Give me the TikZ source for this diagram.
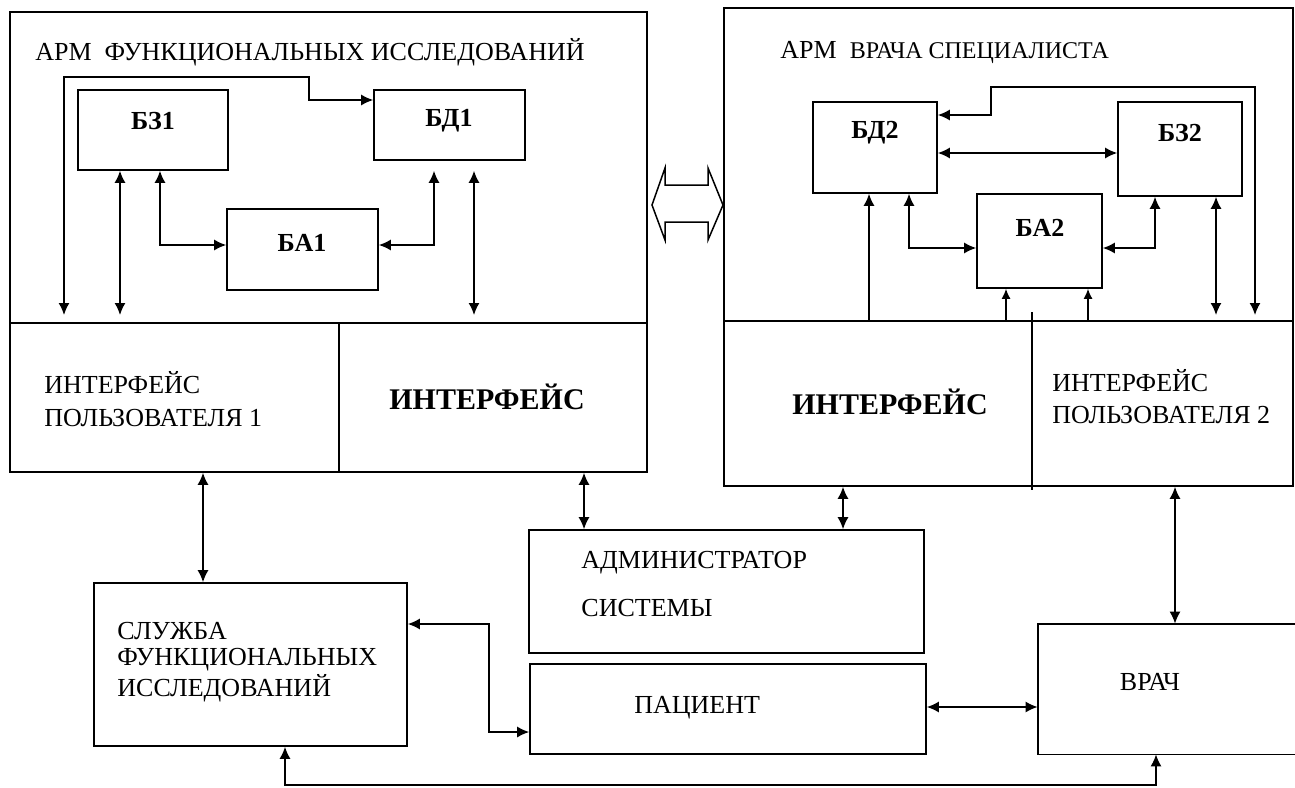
\documentclass[tikz,border=0pt]{standalone}
\usepackage{fontspec}
\setmainfont{Liberation Serif}
\usetikzlibrary{arrows.meta,fit}
\begin{document}
\begin{tikzpicture}[x=0.5pt,y=-0.5pt,
  blk/.style={draw, line width=0.8pt, inner sep=0pt},
  ln/.style={line width=0.75pt},
  ar/.style={ln, -{Latex[length=6pt,width=5.5pt]}},
  da/.style={ln, {Latex[length=6pt,width=5.5pt]}-{Latex[length=6pt,width=5.5pt]}},
  sar/.style={ln, -{Latex[length=5pt,width=4.5pt]}},
  lbl/.style={font=\fontsize{13}{15}\selectfont\bfseries, inner sep=0pt},
  bigb/.style={font=\fontsize{15}{17}\selectfont\bfseries, inner sep=0pt},
  txt/.style={font=\fontsize{13}{15}\selectfont, anchor=west, inner sep=0pt},
  ctxt/.style={font=\fontsize{13}{15}\selectfont, inner sep=0pt},
]
\useasboundingbox (0,0) rectangle (1295,787);

% ---------- left workstation ----------
\node[blk, fit={(10,12)(647,472)}] (armL) {};
\draw[ln] (10,323) -- (647,323);
\draw[ln] (339,323) -- (339,472);
\node[txt] (tL) at (35,52) {АРМ\ \ ФУНКЦИОНАЛЬНЫХ ИССЛЕДОВАНИЙ};

\node[blk, fit={(78,90)(228,170)}] (bz1) {};
\node[lbl] (bz1t) at (153,121) {БЗ1};
\node[blk, fit={(374,90)(525,160)}] (bd1) {};
\node[lbl] (bd1t) at (449,121) {БД1};
\node[blk, fit={(227,209)(378,290)}] (ba1) {};
\node[lbl] (ba1t) at (302,243) {БА1};

\coordinate (e1) at (64,315);
\coordinate (e2) at (120,315);
\coordinate (e3) at (474,315);
\draw[da] (e1) -- (64,77) -- (309,77) -- (309,100) -- (bd1.west |- 0,100);
\draw[da] (120,0 |- bz1.south) -- (e2);
\draw[da] (160,0 |- bz1.south) -- (160,245) -- (ba1.west |- 0,245);
\draw[da, shorten <=5pt] (434,0 |- bd1.south) -- (434,245) -- (ba1.east |- 0,245);
\draw[da, shorten <=5pt] (474,0 |- bd1.south) -- (e3);

\node[txt] (u1a) at (44,383) {ИНТЕРФЕЙС};
\node[txt] (u1b) at (44,418) {ПОЛЬЗОВАТЕЛЯ 1};
\node[bigb] (if1) at (487,397) {ИНТЕРФЕЙС};

% ---------- exchange arrow ----------
\draw[ln] (652,205) -- (665,168) -- (665,185) -- (708,185) -- (708,168) -- (723,205)
  -- (708,240) -- (708,222) -- (665,222) -- (665,240) -- cycle;

% ---------- right workstation ----------
\node[blk, fit={(724,8)(1293,486)}] (armR) {};
\draw[ln] (724,321) -- (1293,321);
\draw[ln] (1032,312) -- (1032,490);
\node[txt] (tR) at (780,52) {АРМ\ \ {\fontsize{12}{14}\selectfont ВРАЧА СПЕЦИАЛИСТА}};

\node[blk, fit={(813,102)(937,193)}] (bd2) {};
\node[lbl] (bd2t) at (875,133) {БД2};
\node[blk, fit={(1118,102)(1242,196)}] (bz2) {};
\node[lbl] (bz2t) at (1180,133) {БЗ2};
\node[blk, fit={(977,194)(1102,288)}] (ba2) {};
\node[lbl] (ba2t) at (1040,228) {БА2};

\coordinate (f1) at (1255,315);
\coordinate (f2) at (1216,315);
\coordinate (f3) at (869,321);
\coordinate (f4) at (1006,321);
\coordinate (f5) at (1088,321);
\draw[da] (f1) -- (1255,87) -- (991,87) -- (991,115) -- (bd2.east |- 0,115);
\draw[da] (bd2.east |- 0,153) -- (bz2.west |- 0,153);
\draw[ar] (f3) -- (869,0 |- bd2.south);
\draw[da] (909,0 |- bd2.south) -- (909,248) -- (ba2.west |- 0,248);
\draw[da] (1155,0 |- bz2.south) -- (1155,248) -- (ba2.east |- 0,248);
\draw[da] (1216,0 |- bz2.south) -- (f2);
\draw[sar] (f4) -- (1006,0 |- ba2.south);
\draw[sar] (f5) -- (1088,0 |- ba2.south);

\node[bigb] (if2) at (890,402) {ИНТЕРФЕЙС};
\node[txt] (u2a) at (1052,381) {ИНТЕРФЕЙС};
\node[txt] (u2b) at (1052,415) {ПОЛЬЗОВАТЕЛЯ 2};

% ---------- bottom ----------
\node[blk, fit={(94,583)(407,746)}] (sl) {};
\node[txt] (sl1) at (117,631) {СЛУЖБА};
\node[txt] (sl2) at (117,660) {ФУНКЦИОНАЛЬНЫХ};
\node[txt] (sl3) at (117,688) {ИССЛЕДОВАНИЙ};

\node[blk, fit={(529,530)(924,653)}] (adm) {};
\node[txt] (adm1) at (581,563) {АДМИНИСТРАТОР};
\node[txt] (adm2) at (581,608) {СИСТЕМЫ};

\node[blk, fit={(530,664)(926,754)}] (pac) {};
\node[txt] (pac1) at (634,708) {ПАЦИЕНТ};

\node[inner sep=0pt, fit={(1038,624)(1300,754)}] (vr) {};
\draw[line width=0.9pt] (vr.north east) -- (vr.north west) -- (vr.south west) -- (vr.south east);
\node[ctxt] (vr1) at (1150,682) {ВРАЧ};

\draw[da] (203,0 |- armL.south) -- (203,0 |- sl.north);
\draw[da] (584,0 |- armL.south) -- (584,0 |- adm.north);
\draw[da] (843,0 |- armR.south) -- (843,0 |- adm.north);
\draw[da] (1175,0 |- armR.south) -- (1175,0 |- vr.north);
\draw[da] (sl.east |- 0,624) -- (489,624) -- (489,732) -- (pac.west |- 0,732);
\draw[da] (pac.east |- 0,707) -- (vr.west |- 0,707);
\draw[da] (285,0 |- sl.south) -- (285,785) -- (1156,785) -- (1156,0 |- vr.south);
\end{tikzpicture}
\end{document}
